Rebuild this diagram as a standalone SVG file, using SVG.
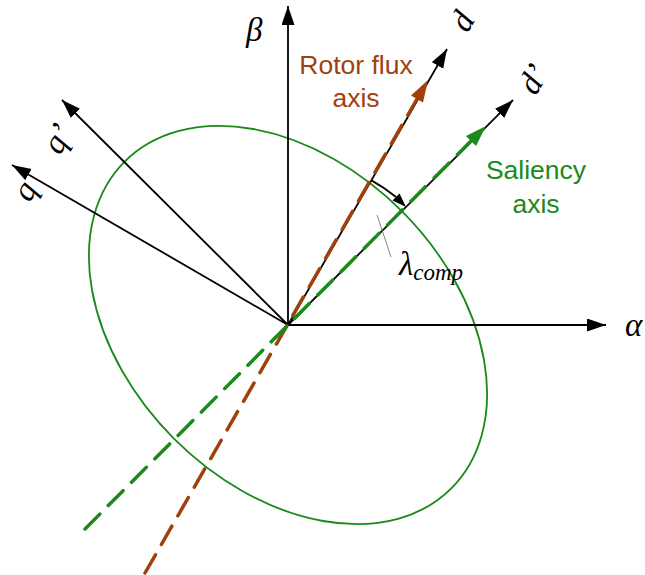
<svg xmlns="http://www.w3.org/2000/svg" width="645" height="575" viewBox="0 0 645 575">
<defs>
<style>
.ax{stroke:#000;stroke-width:1.8;fill:none;marker-end:url(#ah)}
.lbl{font-family:"Liberation Serif",serif;font-style:italic;font-size:33px;fill:#000}
.dash{fill:none;stroke-width:3.5;stroke-dasharray:21 12;stroke-linecap:round}
.sans{font-family:"Liberation Sans",Arial,sans-serif;font-size:26.5px;text-anchor:middle}
</style>
<marker id="ah" markerWidth="20" markerHeight="14" refX="19" refY="6.5" orient="auto" markerUnits="userSpaceOnUse">
<path d="M0,0 L19,6.5 L0,13 z" fill="#000"/>
</marker>
</defs>
<rect width="645" height="575" fill="#fff"/>
<g id="ellipse">
<ellipse cx="288" cy="325" rx="231" ry="161" transform="rotate(45 288 325)" fill="none" stroke="#1a8a1a" stroke-width="1.8"/>
</g>
<g id="connectors">
<line id="alpha-axis" class="ax" x1="288" y1="325" x2="606" y2="325"/>
<line id="beta-axis" class="ax" x1="288" y1="325" x2="288" y2="6"/>
<line id="d-axis" class="ax" x1="288" y1="325" x2="447" y2="49"/>
<line id="dp-axis" class="ax" x1="288" y1="325" x2="513" y2="100"/>
<line id="q-axis" class="ax" x1="288" y1="325" x2="12" y2="165"/>
<line id="qp-axis" class="ax" x1="288" y1="325" x2="62" y2="100"/>
<line id="rotor-flux" class="dash" stroke="#a0410d" x1="145" y1="573" x2="417" y2="99"/>
<polygon points="428,80 423,102.5 411,95.5" fill="#a0410d"/>
<line id="saliency" class="dash" stroke="#1a8a1a" x1="85" y1="529" x2="471" y2="141"/>
<polygon points="486,126 476,146 466,136" fill="#1a8a1a"/>
<path d="M371.5,180.4 A167,167 0 0 1 396,197" fill="none" stroke="#000" stroke-width="1.8"/>
<polygon points="406,207 399.5,193.5 392.5,200.5" fill="#000"/>
<line x1="377" y1="215" x2="391" y2="257" stroke="#777" stroke-width="0.9"/>
</g>
<g id="labels">
<text class="lbl" x="246" y="41">β</text>
<text class="lbl" x="625" y="336">α</text>
<text class="lbl" transform="translate(462,21) rotate(-60)" x="0" y="11" text-anchor="middle">d</text>
<text class="lbl" transform="translate(533,79) rotate(-60)" x="0" y="11" text-anchor="middle">d’</text>
<text class="lbl" transform="translate(27,192) rotate(-60)" x="0" y="8" text-anchor="middle">q</text>
<text class="lbl" transform="translate(60,140) rotate(-60)" x="0" y="8" text-anchor="middle">q’</text>
<text class="lbl" x="399" y="275">λ<tspan font-size="23" dy="5">comp</tspan></text>
</g>
<g id="rotor-label" fill="#a0410d">
<text class="sans" x="356" y="74">Rotor flux</text>
<text class="sans" x="356" y="107">axis</text>
</g>
<g id="saliency-label" fill="#1a8a1a">
<text class="sans" x="536" y="179">Saliency</text>
<text class="sans" x="536" y="213">axis</text>
</g>
</svg>
